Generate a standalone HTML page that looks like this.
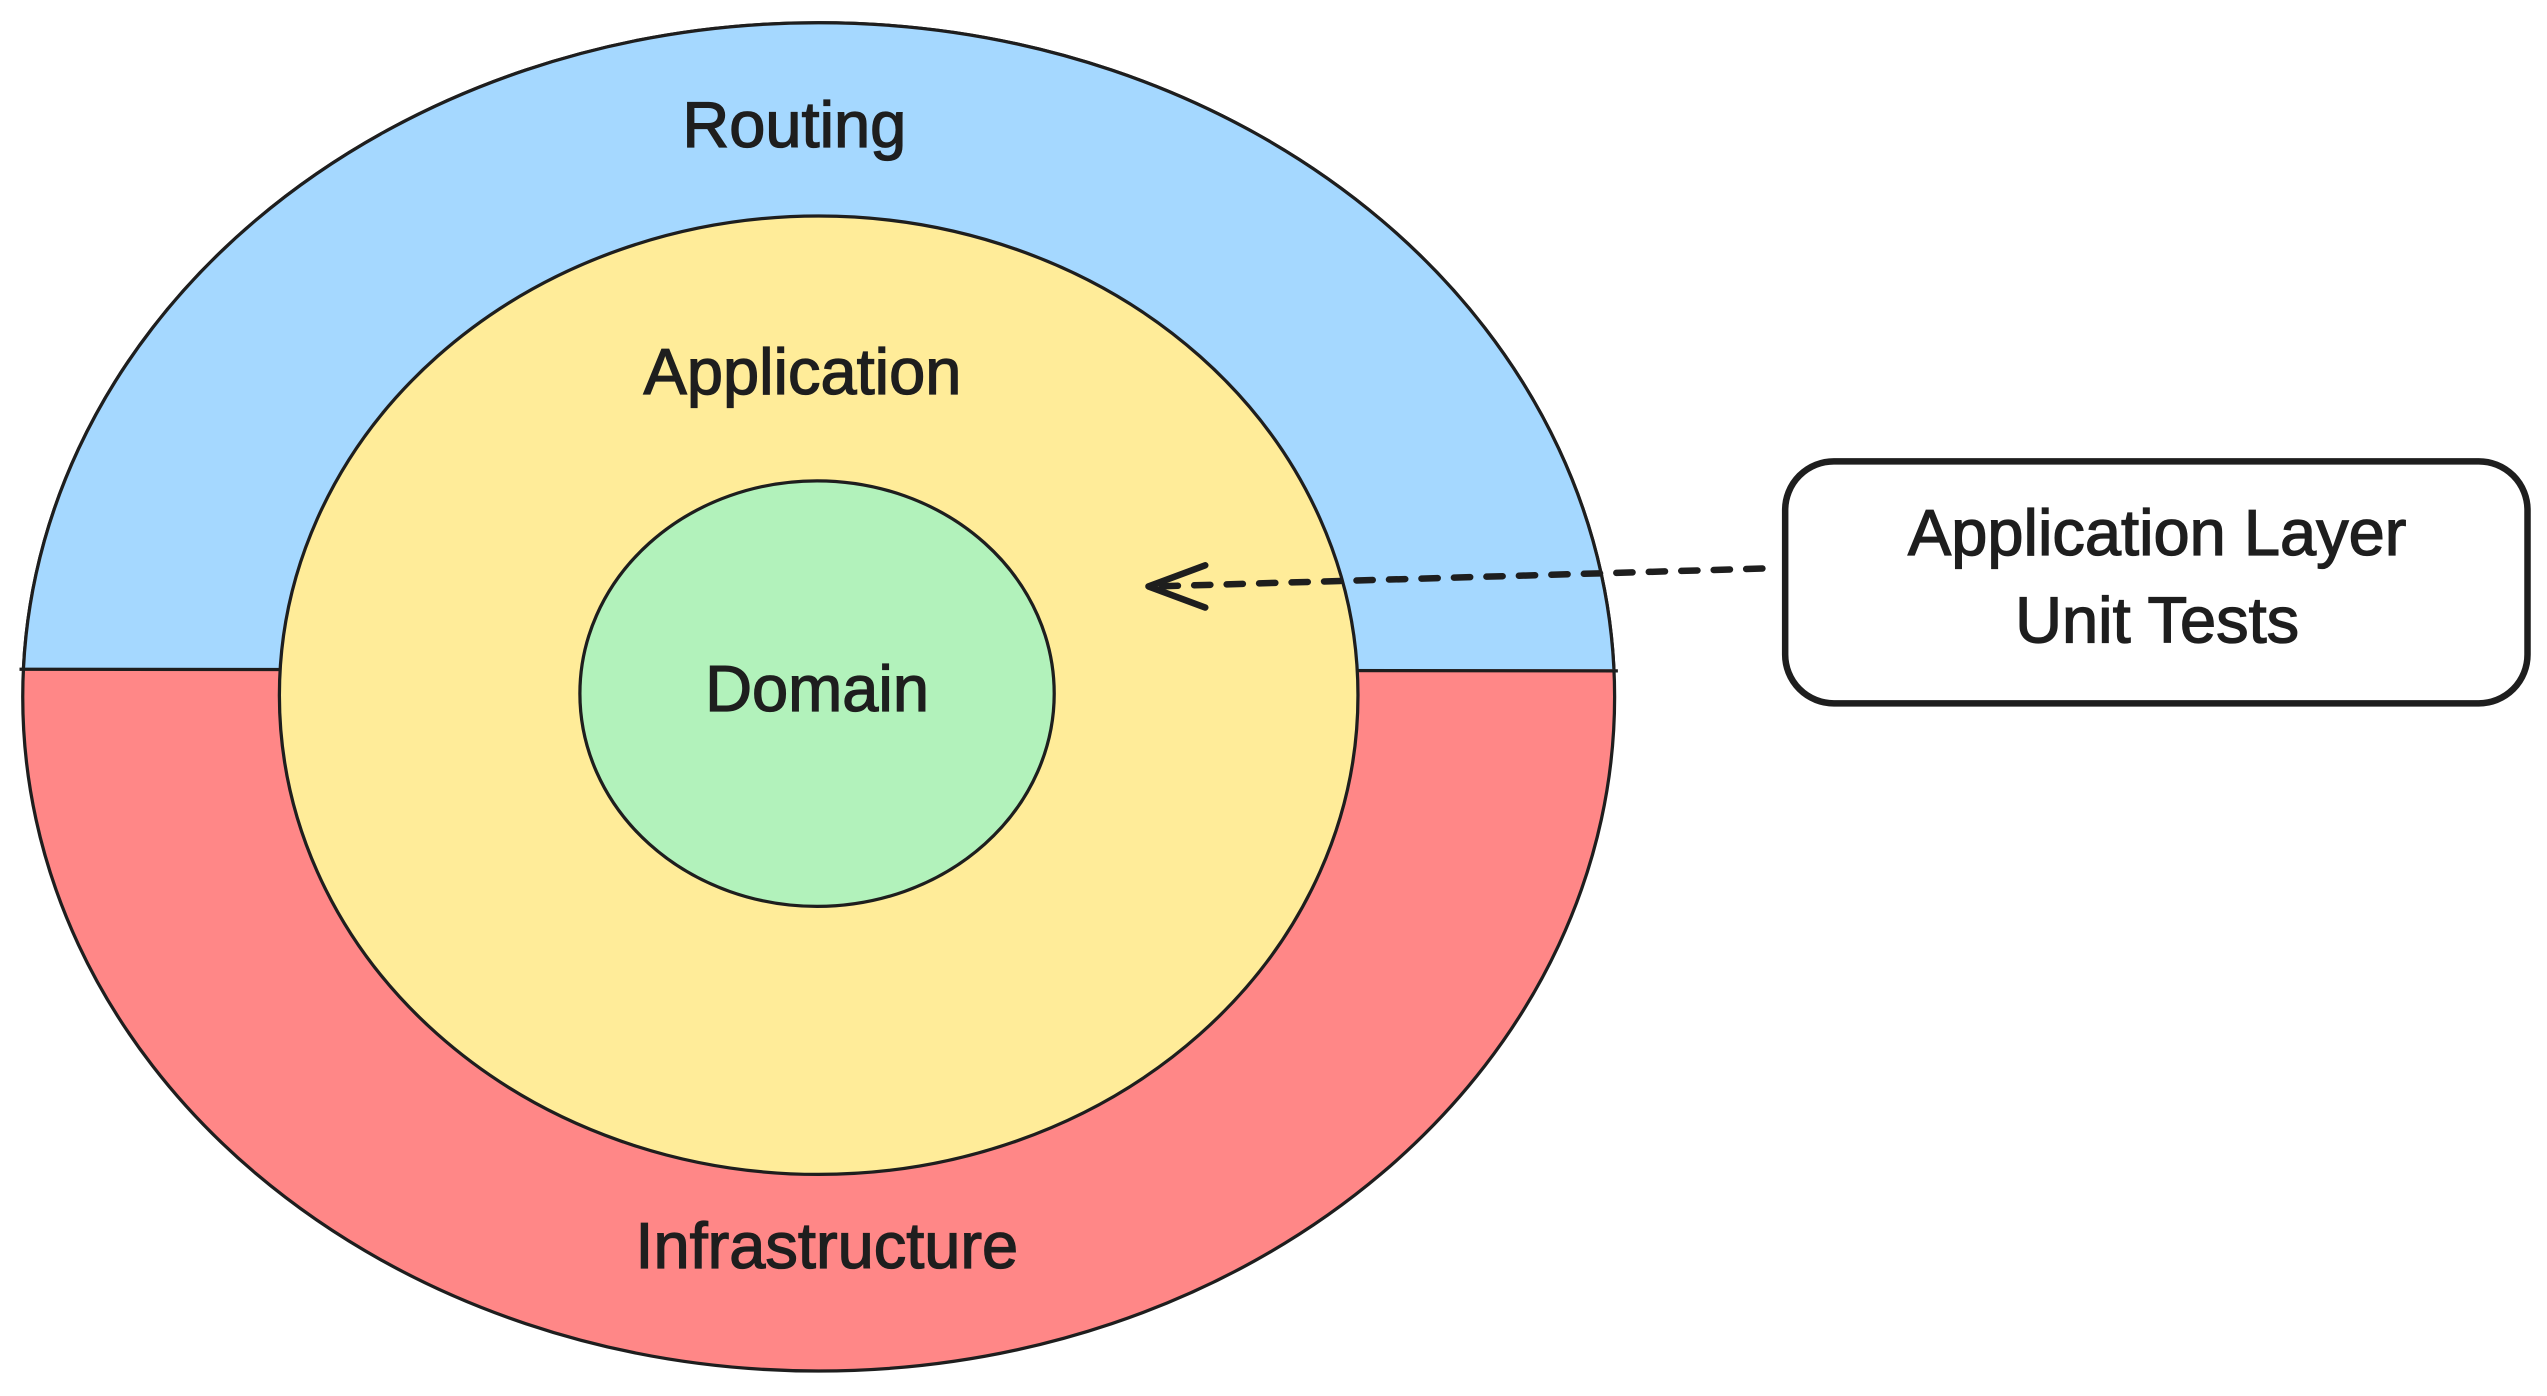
<!DOCTYPE html>
<html><head><meta charset="utf-8"><style>
html,body{margin:0;padding:0;background:#fff;}
svg{display:block;}
text{font-family:"Liberation Sans",sans-serif;fill:#1e1e1e;stroke:#1e1e1e;stroke-width:0.8;text-anchor:middle;dominant-baseline:middle;}
</style></head><body>
<svg width="2547" height="1396" viewBox="0 0 1568 859.4" preserveAspectRatio="none" xmlns="http://www.w3.org/2000/svg">
<defs>
<clipPath id="top"><rect x="0" y="0" width="1100" height="412"/></clipPath>
</defs>
<ellipse cx="504" cy="429" rx="490" ry="415" fill="#ff8787" stroke="#1e1e1e" stroke-width="2"/>
<ellipse cx="504" cy="429" rx="490" ry="415" fill="#a5d8ff" stroke="#1e1e1e" stroke-width="2" clip-path="url(#top)"/>
<line x1="12" y1="412" x2="996" y2="413" stroke="#1e1e1e" stroke-width="2"/>
<ellipse cx="504" cy="428" rx="332" ry="295" fill="#ffec99" stroke="#1e1e1e" stroke-width="2"/>
<ellipse cx="503" cy="427" rx="146" ry="131" fill="#b2f2bb" stroke="#1e1e1e" stroke-width="2"/>
<text x="489" y="80" font-size="40">Routing</text>
<text x="494" y="232" font-size="40">Application</text>
<text x="503" y="427" font-size="40">Domain</text>
<text x="509" y="770" font-size="40">Infrastructure</text>
<line x1="1085" y1="350" x2="712" y2="361" stroke="#1e1e1e" stroke-width="4" stroke-dasharray="10 10" stroke-linecap="round"/>
<polyline points="742,348 707,361 742,374" fill="none" stroke="#1e1e1e" stroke-width="4" stroke-linecap="round" stroke-linejoin="round"/>
<rect x="1099" y="284" width="457" height="149" rx="30" fill="#fff" stroke="#1e1e1e" stroke-width="4"/>
<text x="1328" y="331" font-size="40">Application Layer</text>
<text x="1328" y="385" font-size="40">Unit Tests</text>
</svg>
</body></html>
